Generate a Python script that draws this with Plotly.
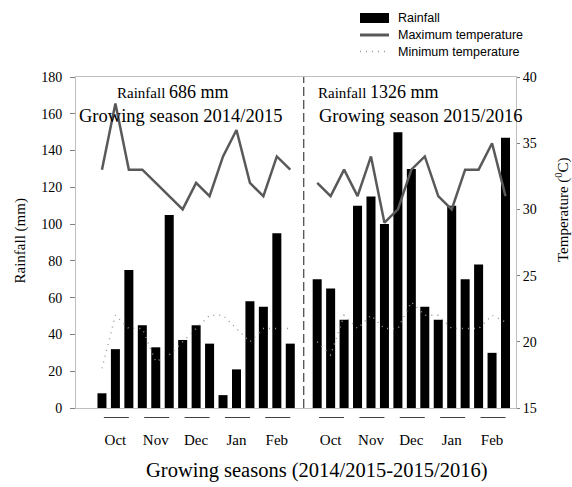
import plotly.graph_objects as go

# ---- data -------------------------------------------------------------
months = ["Oct", "Nov", "Dec", "Jan", "Feb"]
seasons = ["2014/2015", "2015/2016"]

# rainfall per ~10-day period (mm), 3 periods per month
rain_2014 = [8, 32, 75, 45, 33, 105, 37, 45, 35, 7, 21, 58, 55, 95, 35]
rain_2015 = [70, 65, 48, 110, 115, 100, 150, 130, 55, 48, 110, 70, 78, 30, 147]

# maximum / minimum temperature (deg C)
tmax_2014 = [33, 38, 33, 33, 32, 31, 30, 32, 31, 34, 36, 32, 31, 34, 33]
tmax_2015 = [32, 31, 33, 31, 34, 29, 30, 33, 34, 31, 30, 33, 33, 35, 31]
tmin_2014 = [18, 22, 21, 21, 18.5, 19, 20, 21, 22, 22, 21, 20, 21, 21, 21]
tmin_2015 = [20, 19, 22, 21, 22, 21, 21, 23, 22, 22, 21, 21, 21, 22, 21.5]

# ---- layout helpers ---------------------------------------------------
W, H = 572, 487
ML, MR, MT, MB = 76, 56, 77, 79
PW, PH = W - ML - MR, H - MT - MB


def px_x(px):
    return (px - ML) / PW


def px_y(py):
    return (H - MB - py) / PH


SERIF = "Liberation Serif"
SANS = "Liberation Sans"
MIN_COLOR = "#9a9a9a"
MAX_COLOR = "#595959"

n = len(rain_2014)
per_month = n // len(months)
x_left = list(range(n))
gap = n                      # empty slot separating the two seasons
x_right = list(range(n + 1, 2 * n + 1))

fig = go.Figure()

fig.add_trace(go.Bar(
    x=x_left + x_right, y=rain_2014 + rain_2015,
    width=0.67, marker=dict(color="black", line=dict(width=0)),
    name="Rainfall", showlegend=False,
))
fig.add_trace(go.Scatter(
    x=x_left + [gap] + x_right, y=tmax_2014 + [None] + tmax_2015,
    yaxis="y2", mode="lines", connectgaps=False,
    line=dict(color=MAX_COLOR, width=2.5),
    name="Maximum temperature", showlegend=False,
))
fig.add_trace(go.Scatter(
    x=x_left + [gap] + x_right, y=tmin_2014 + [None] + tmin_2015,
    yaxis="y2", mode="lines", connectgaps=False,
    line=dict(color=MIN_COLOR, width=1.4, dash="1px,5px"),
    name="Minimum temperature", showlegend=False,
))

# month positions: centre of each block of periods
centres = [x_left[i * per_month + per_month // 2] for i in range(len(months))] + \
          [x_right[i * per_month + per_month // 2] for i in range(len(months))]

shapes = []
# short bracket line under each month
for c in centres:
    shapes.append(dict(type="line", xref="x", yref="paper",
                       x0=c - 0.86, x1=c + 1.0, y0=px_y(417.5), y1=px_y(417.5),
                       line=dict(color="#404040", width=1)))
# dashed divider between seasons
shapes.append(dict(type="line", xref="x", yref="paper", x0=gap, x1=gap, y0=0, y1=1,
                   line=dict(color="#404040", width=1.2, dash="9px,4px")))

# legend drawn at the top right
shapes.append(dict(type="rect", xref="paper", yref="paper",
                   x0=px_x(360), x1=px_x(389), y0=px_y(23), y1=px_y(13),
                   fillcolor="black", line=dict(width=0)))
shapes.append(dict(type="line", xref="paper", yref="paper",
                   x0=px_x(360), x1=px_x(389), y0=px_y(35), y1=px_y(35),
                   line=dict(color=MAX_COLOR, width=3)))
shapes.append(dict(type="line", xref="paper", yref="paper",
                   x0=px_x(360), x1=px_x(389), y0=px_y(51.5), y1=px_y(51.5),
                   line=dict(color=MIN_COLOR, width=1.4, dash="1px,5px")))

annotations = []
for label, py in [("Rainfall", 18), ("Maximum temperature", 35), ("Minimum temperature", 51.5)]:
    annotations.append(dict(text=label, xref="paper", yref="paper",
                            x=px_x(395.5), y=px_y(py), xanchor="left", yanchor="middle",
                            showarrow=False, font=dict(family=SANS, size=12.5, color="black")))

totals = [sum(rain_2014), sum(rain_2015)]
season_pos = [(115, 77), (316, 317)]
for season, total, (rx, gx) in zip(seasons, totals, season_pos):
    annotations.append(dict(
        text=f"Rainfall <span style='font-size:18px'>{total} mm</span>",
        xref="paper", yref="paper", x=px_x(rx), y=px_y(91.5),
        xanchor="left", yanchor="middle", showarrow=False,
        font=dict(family=SERIF, size=15, color="black")))
    annotations.append(dict(
        text=f"Growing season {season}",
        xref="paper", yref="paper", x=px_x(gx), y=px_y(116.5),
        xanchor="left", yanchor="middle", showarrow=False,
        font=dict(family=SERIF, size=18.5, color="black")))

# axis titles
annotations.append(dict(text="Rainfall (mm)", textangle=-90,
                        xref="paper", yref="paper", x=px_x(20), y=px_y(241.5),
                        xanchor="center", yanchor="middle", showarrow=False,
                        font=dict(family=SERIF, size=15, color="black")))
annotations.append(dict(text="Temperature (<sup>0</sup>C)", textangle=-90,
                        xref="paper", yref="paper", x=px_x(562), y=px_y(210),
                        xanchor="center", yanchor="middle", showarrow=False,
                        font=dict(family=SERIF, size=15, color="black")))
annotations.append(dict(text="Growing seasons (2014/2015-2015/2016)",
                        xref="paper", yref="paper", x=px_x(316.5), y=px_y(470),
                        xanchor="center", yanchor="middle", showarrow=False,
                        font=dict(family=SERIF, size=20.5, color="black")))

axis_line = "#bfbfbf"
fig.update_layout(
    width=W, height=H,
    margin=dict(l=ML, r=MR, t=MT, b=MB, pad=0),
    plot_bgcolor="white", paper_bgcolor="white",
    showlegend=False,
    shapes=shapes, annotations=annotations,
    xaxis=dict(range=[-1.93, 2 * n + 0.78], tickvals=centres, ticktext=months * 2,
               showline=True, linecolor=axis_line, linewidth=1, mirror=True,
               ticks="", showgrid=False, zeroline=False, ticklabelstandoff=18,
               tickfont=dict(family=SERIF, size=15, color="black")),
    yaxis=dict(range=[0, 180], dtick=20, showline=True, linecolor=axis_line, linewidth=1,
               ticks="outside", ticklen=5, tickcolor="#808080", showgrid=False,
               zeroline=False, ticklabelstandoff=5,
               tickfont=dict(family=SERIF, size=14, color="black")),
    yaxis2=dict(range=[15, 40], dtick=5, overlaying="y", side="right",
                showline=True, linecolor=axis_line, linewidth=1,
                ticks="outside", ticklen=3, tickcolor="#808080", showgrid=False,
                zeroline=False, tickfont=dict(family=SERIF, size=14, color="black")),
)

fig.write_html("out.html")
